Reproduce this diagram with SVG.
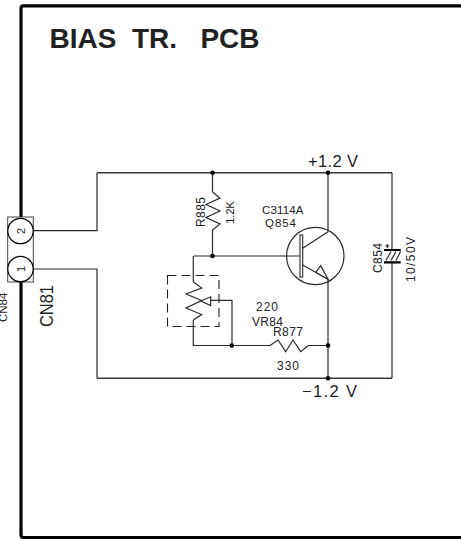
<svg xmlns="http://www.w3.org/2000/svg" width="461" height="539" viewBox="0 0 461 539">
<style>
.w{fill:none;stroke:#2a2a2a;stroke-width:1.2}
.r{fill:none;stroke:#3a3a3a;stroke-width:1.5}
.f{fill:none;stroke:#000;stroke-width:3.2}
.d{fill:#000}
.t{font-family:"Liberation Sans",Arial,sans-serif;fill:#222;font-size:12px}
</style>
<rect width="461" height="539" fill="#fff"/>
<g id="frame"><path class="f" d="M461 5.800H23.500Q21 5.800 21 8.300V535Q21 537.500 23.500 537.500H461"/></g>
<text x="49.500" y="48" font-family="Liberation Sans,Arial,sans-serif" font-weight="bold" font-size="28" fill="#222" xml:space="preserve">BIAS  TR.   PCB</text>
<g id="connectors">
<path class="w" d="M33 230.700H97V172.700"/>
<path class="r" d="M97 172.700H392"/>
<path class="w" d="M392 172.700V250M392 262V378.300"/>
<path class="r" d="M392 378.300H97"/>
<path class="w" d="M97 378.300V269H33"/>
<path class="w" d="M212.500 172.700V192M212.500 230V256M193.500 256H300"/>
<path class="w" d="M328 172.700V231.700M328 279.300V378.300"/>
<path class="w" d="M193.300 256V281.700M193.300 320V345.500H270M308.300 345.500H328"/>
</g>
<g id="junctions">
<circle class="d" cx="212.500" cy="172.700" r="2.300"/><circle class="d" cx="328" cy="172.700" r="2.300"/>
<circle class="d" cx="212.500" cy="256" r="2.300"/><circle class="d" cx="231.800" cy="345.500" r="2.300"/>
<circle class="d" cx="328" cy="345.500" r="2.300"/><circle class="d" cx="328" cy="378.300" r="2.300"/>
</g>
<g id="CN81">
<rect x="7.700" y="217" width="25.600" height="65" fill="#fff" stroke="#444" stroke-width="1"/>
<circle cx="20.500" cy="231" r="12.700" fill="#fff" stroke="#000" stroke-width="1.200"/>
<circle cx="20.500" cy="269" r="12.700" fill="#fff" stroke="#000" stroke-width="1.200"/>
<text class="t" style="font-size:11px" transform="translate(24.500 231) rotate(-90)" text-anchor="middle">2</text>
<text class="t" style="font-size:11px" transform="translate(24.500 269) rotate(-90)" text-anchor="middle">1</text>
<text class="t" style="font-size:18px" transform="translate(53 327) rotate(-90)" textLength="42" lengthAdjust="spacingAndGlyphs">CN81</text>
<text class="t" style="font-size:11.500px" transform="translate(7 322) rotate(-90)">CN84</text>
</g>
<g id="R885">
<path class="w" d="M212.500 192L220 198L206 204.500L220 211L206 217.500L220 224L212.500 230"/>
<text class="t" transform="translate(205 227) rotate(-90)" textLength="30">R885</text>
<text class="t" style="font-size:11.500px" transform="translate(233.500 224) rotate(-90)" textLength="23">1.2K</text>
</g>
<g id="Q854">
<circle class="w" cx="315.300" cy="256" r="28.700"/>
<rect x="300" y="235" width="2.700" height="42" fill="#fff" stroke="#2a2a2a" stroke-width="1.100"/>
<path class="w" d="M302.700 248.300L328 231.700M302.700 265L328 279.300"/>
<path d="M315.700 272.300L320.700 265.700L328 279.300Z" fill="#fff" stroke="#2a2a2a" stroke-width="1.200"/>
<text class="t" style="font-size:11.500px" x="262" y="214" textLength="41.500">C3114A</text>
<text class="t" style="font-size:11.500px" x="265" y="226.500" textLength="31">Q854</text>
</g>
<g id="VR84">
<rect x="167.500" y="275.500" width="51.500" height="51" fill="none" stroke="#222" stroke-width="1.100" stroke-dasharray="9 5"/>
<path class="w" d="M193.300 281.700L201.700 288L186 294L201.700 300.500L186 308L201.700 314.500L193.300 320"/>
<path class="w" d="M210.700 300.300H232V345.500"/>
<path d="M200.700 301L210.700 296.800V305.500Z" fill="#fff" stroke="#2a2a2a" stroke-width="1.200"/>
<text class="t" x="256" y="311" textLength="22">220</text>
<text class="t" x="252" y="326" textLength="31">VR84</text>
</g>
<g id="R877">
<path class="w" d="M270 345.500L278 340L285.700 351.700L293 340L300.700 351.700L308.300 345.500"/>
<text class="t" x="273" y="336" textLength="30">R877</text>
<text class="t" x="277" y="370" textLength="22">330</text>
</g>
<g id="C854">
<path d="M384 250H400.700M384 262.300H400.700" stroke="#000" stroke-width="2.200" fill="none"/>
<path class="w" d="M386 260.500L391 251.500M391 260.500L396 251.500M396 260.500L400.500 251.500"/>
<path class="w" d="M385.300 246H389.300M387.300 244V248"/>
<text class="t" transform="translate(381.700 273) rotate(-90)" textLength="30">C854</text>
<text class="t" transform="translate(415 282) rotate(-90)" textLength="45">10/50V</text>
</g>
<g id="rails">
<text class="t" style="font-size:16.500px" x="308" y="167" textLength="50">+1.2 V</text>
<text class="t" style="font-size:16.500px" x="302" y="397" textLength="55">−1.2 V</text>
</g>
</svg>
